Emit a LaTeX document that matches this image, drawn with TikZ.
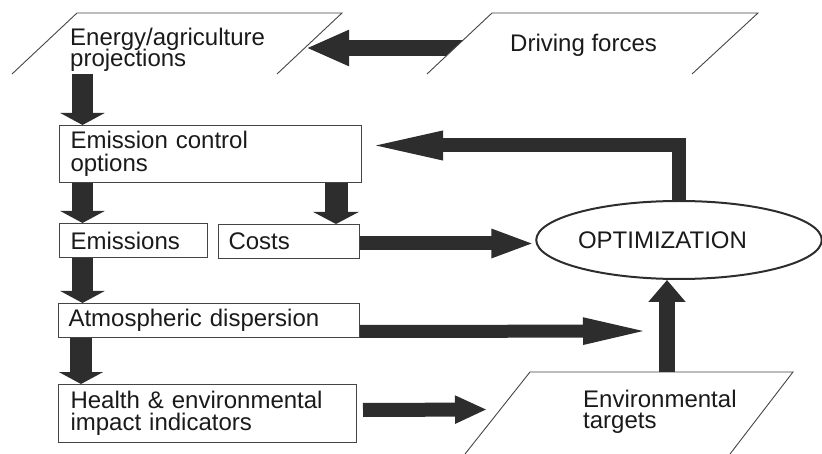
\documentclass[tikz,border=0pt]{standalone}
\usepackage{fontspec}
\setmainfont{Liberation Sans}
\usetikzlibrary{arrows.meta,shapes.geometric}
\definecolor{arrc}{HTML}{2D2D2D}
\definecolor{boxc}{HTML}{454545}
\definecolor{txt}{HTML}{1A1A1A}
\lineskiplimit=-30pt
\begin{document}
\begin{tikzpicture}[x=1pt,y=-1pt,
  box/.style={draw=boxc, line width=1pt, rectangle, anchor=north west, align=left,
    inner ysep=0pt, text=txt, font=\fontsize{24}{22}\selectfont},
  lbl/.style={inner sep=0pt, align=left, text=txt, font=\fontsize{24}{21.5}\selectfont},
  para/.style={draw=boxc, line width=0.9pt},
  arr/.style={draw=arrc, line cap=butt, line join=miter},
  varrow/.style={arr, line width=21.5pt, -{Triangle[length=12pt,width=44pt]}},
]
\useasboundingbox (0,0) rectangle (822,454);

% ---- Energy / agriculture projections (parallelogram, open bottom)
\draw[para] (12,74) -- (77,13) -- (342,13) -- (277,74);
\node[lbl, anchor=west, font=\fontsize{24}{21}\selectfont] (en) at (70,49.5) {Energy/agriculture\\projections};
\coordinate (en-r) at (306,48);
\coordinate (en-out) at (82.5,74);

% ---- Driving forces
\coordinate (df-l) at (470,48);
\draw[arr, line width=16pt, -{Triangle[length=43pt,width=33pt]}] (df-l) -- (en-r);
\fill[white] (427,74) -- (492,13) -- (758,13) -- (692,74) -- cycle;
\draw[para] (427,74) -- (492,13) -- (758,13) -- (692,74);
\node[lbl, anchor=base west] (df) at (510,52) {Driving forces};

% ---- boxes
\node[box, minimum width=302, minimum height=57, text width=280, inner xsep=11,
  font=\fontsize{24}{23}\selectfont] (ecb) at (59,125) {Emission control\\options};
\node[box, minimum width=148, minimum height=34, text width=126, inner xsep=11] (emi) at (59,223) {Emissions};
\node[box, minimum width=141, minimum height=34, text width=121, inner xsep=10] (cost) at (218,224) {Costs};
\node[box, minimum width=301, minimum height=34, text width=281, inner xsep=10] (atm) at (58,303) {Atmospheric dispersion};
\node[box, minimum width=298, minimum height=58, text width=274, inner xsep=12] (hea) at (58,384) {Health \& environmental\\impact indicators};

% ---- optimization
\node[ellipse, draw=arrc, line width=2pt, minimum width=284, minimum height=78, inner sep=0pt,
  text=txt, font=\fontsize{24}{22}\selectfont] (opt) at (679,240) {OPTIMIZATION\hspace*{33pt}};

% ---- environmental targets
\draw[para] (465,454) -- (530,372) -- (793,372) -- (730,454);
\node[lbl, anchor=west] (tgt) at (583,412) {Environmental\\targets};
\coordinate (tgt-up) at (667,372);
\coordinate (tgt-in) at (487,409.5);
\coordinate (atm-tip) at (656,331);

% ---- vertical arrows
\draw[varrow] (en-out) -- ([xshift=23.5pt]ecb.north west);
\draw[varrow] ([xshift=23.5pt]ecb.south west) -- ([xshift=23.5pt]emi.north west);
\coordinate (cx) at ([xshift=118pt]cost.north west);
\draw[arr, line width=23pt, -{Triangle[length=12pt,width=45pt]}] (cx |- ecb.south) -- (cx);
\coordinate (a1) at ([xshift=23.5pt]emi.south west);
\draw[varrow] (a1) -- (a1 |- atm.north);
\coordinate (a2) at ([xshift=23pt]atm.south west);
\draw[varrow] (a2) -- (a2 |- hea.north);

% ---- horizontal arrows
\draw[arr, line width=14pt, -{Triangle[length=44pt,width=26pt]}] ([yshift=-2pt]cost.east) -- ([yshift=-2pt]cost.east -| opt.west);
\draw[arr, line width=14pt, -{Triangle[length=81pt,width=25pt]}] (opt.north) |- ([yshift=8.5pt]ecb.east);
\draw[arr, line width=13pt, -{Triangle[length=73pt,width=23pt]}] ([yshift=-11pt]atm.east) -- (atm-tip);
\draw[arr, line width=14pt, -{Triangle[length=32pt,width=26pt]}] ([xshift=6pt,yshift=3.5pt]hea.east) -- (tgt-in);
\draw[arr, line width=16pt, -{Triangle[length=22pt,width=36pt]}] (tgt-up) -- (opt.south -| tgt-up);
\end{tikzpicture}
\end{document}
